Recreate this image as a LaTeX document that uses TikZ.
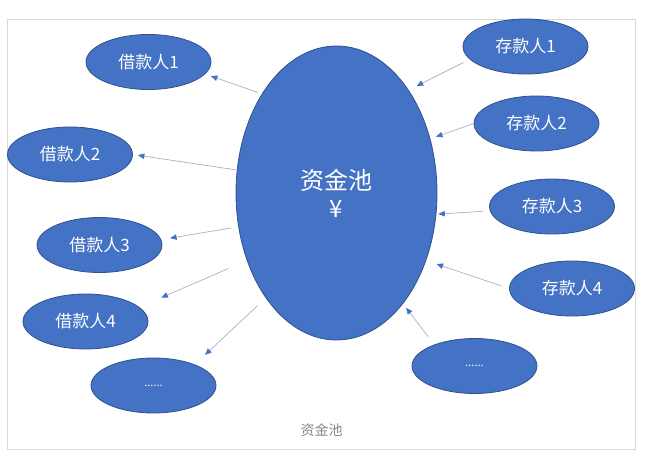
\documentclass[tikz,border=0pt]{standalone}
\usepackage{fontspec}
\usepackage{xcolor}
\usepackage{tikz}
\usetikzlibrary{arrows.meta,shapes.geometric}
\newfontfamily\cjk{Noto Sans CJK SC}
\definecolor{poolblue}{RGB}{68,114,196}
\definecolor{pooledge}{RGB}{47,82,143}
\definecolor{flowgray}{RGB}{170,176,190}
\definecolor{capgray}{RGB}{135,135,135}

\begin{document}
\begin{tikzpicture}[
  x=1pt, y=-1pt,
  party/.style={ellipse, draw=pooledge, line width=0.8pt, fill=poolblue,
    text=white, font=\cjk\fontsize{17}{20}\selectfont, inner sep=0pt,
    minimum width=125pt, minimum height=55pt},
  arr/.style={-{Triangle[length=6.5pt,width=5.5pt,color=poolblue]},
    line width=0.7pt, flowgray}
]
  \useasboundingbox (0,0) rectangle (651,468);
  \draw[black!15, line width=0.8pt] (7,19) rectangle (635,449);

  \node[party, minimum width=201pt, minimum height=294pt, align=center,
    font=\cjk\fontsize{24}{28}\selectfont] (pool) at (336.5,193) {资金池\\¥};

  \node[party] (borrow1) at (148.5,62) {借款人1};
  \node[party] (borrow2) at (70,154.5) {借款人2};
  \node[party] (borrow3) at (99.5,245) {借款人3};
  \node[party] (borrow4) at (85.5,321.5) {借款人4};
  \node[party] (borrow5) at (153.5,385.5) {\fontsize{11}{12}\selectfont ......};

  \node[party] (depo1) at (525.5,46.5) {存款人1};
  \node[party] (depo2) at (536.5,123.5) {存款人2};
  \node[party] (depo3) at (552,206.5) {存款人3};
  \node[party] (depo4) at (572,288.5) {存款人4};
  \node[party] (depo5) at (474.5,366) {\fontsize{11}{12}\selectfont ......};

  \node[font=\cjk\fontsize{14}{16}\selectfont, text=capgray] (caption) at (321.5,430.5) {资金池};

  \draw[arr, shorten <=4pt, shorten >=6pt] (pool.127) -- (borrow1.348);
  \draw[arr, shorten <=1pt, shorten >=5pt] (pool.167) -- (borrow2.0);
  \draw[arr, shorten <=7pt, shorten >=9pt] (pool.199) -- (borrow3.5);
  \draw[arr, shorten <=20pt, shorten >=24pt] (pool.217) -- (borrow4.15);
  \draw[arr, shorten <=11pt, shorten >=14pt] (pool.236) -- (borrow5.27);

  \draw[arr, shorten <=7pt, shorten >=9pt] (depo1.193) -- (pool.55);
  \draw[arr, shorten <=0.5pt, shorten >=6pt] (depo2.180) -- (pool.30);
  \draw[arr, shorten <=7pt, shorten >=2pt] (depo3.184) -- (pool.-12);
  \draw[arr, shorten <=8pt, shorten >=11pt] (depo4.180) -- (pool.-37);
  \draw[arr, shorten <=10pt, shorten >=5pt] (depo5.152) -- (pool.-59);
\end{tikzpicture}
\end{document}
